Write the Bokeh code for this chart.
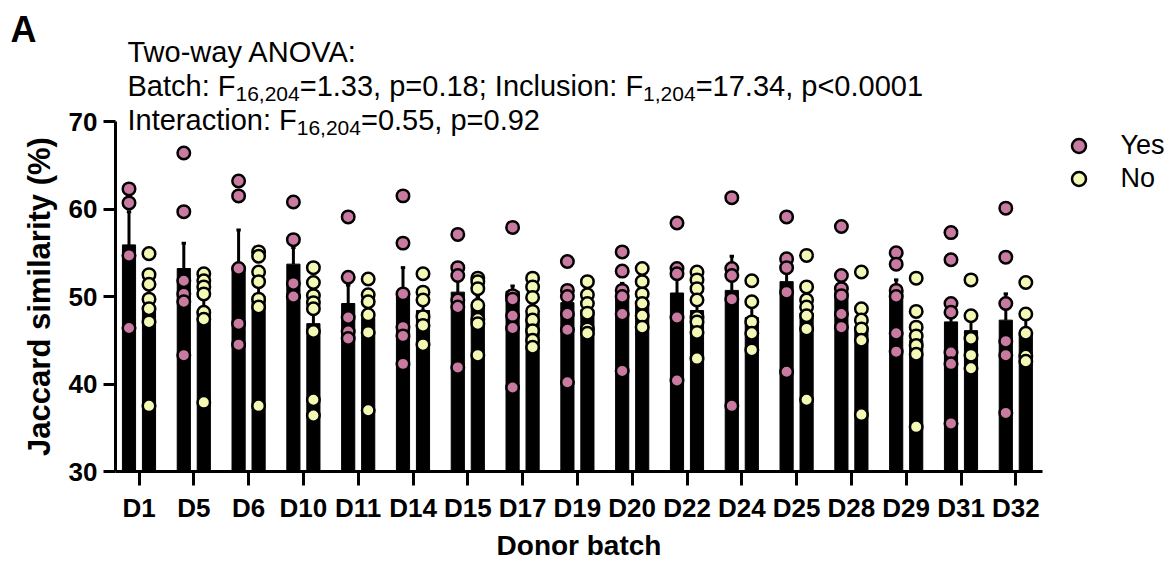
import numpy as np
from bokeh.plotting import figure
from bokeh.models import (Range1d, FixedTicker, Label, Legend, LegendItem,
                          ColumnDataSource)
from bokeh.embed import file_html
from bokeh.resources import INLINE

# ---------------- data ----------------
batches = ["D1", "D5", "D6", "D10", "D11", "D14", "D15", "D17", "D19",
           "D20", "D22", "D24", "D25", "D28", "D29", "D31", "D32"]

yes_points = [
    [62.3, 60.7, 54.7, 46.4],
    [66.4, 59.7, 51.8, 50.3, 49.4, 43.3],
    [63.2, 61.5, 53.2, 46.9, 44.5],
    [60.8, 56.5, 51.5, 50.0, 50.0],
    [59.1, 52.2, 47.6, 46.0, 45.2],
    [61.5, 56.1, 50.3, 46.5, 45.5, 42.3],
    [57.1, 53.3, 52.4, 49.6, 48.8, 41.9],
    [57.9, 50.1, 49.7, 47.8, 46.4, 39.6],
    [54.0, 50.7, 50.0, 48.0, 46.2, 40.2],
    [55.1, 52.9, 50.7, 50.0, 48.0, 41.5],
    [58.4, 53.2, 52.6, 47.6, 40.4],
    [61.3, 53.2, 52.4, 49.7, 37.5],
    [59.1, 54.3, 53.3, 50.5, 41.4],
    [58.0, 52.4, 50.9, 50.1, 48.0, 46.5],
    [55.0, 53.7, 50.7, 50.0, 45.8, 43.7],
    [57.3, 54.2, 49.2, 48.2, 43.6, 42.3, 35.5],
    [60.1, 54.5, 49.2, 44.9, 43.3, 36.7],
]
no_points = [
    [54.9, 52.5, 51.4, 49.7, 48.6, 47.1, 37.5],
    [52.6, 51.8, 51.1, 50.3, 48.2, 47.4, 37.9],
    [55.1, 54.6, 52.8, 51.7, 49.7, 48.8, 37.5],
    [53.3, 51.6, 50.1, 49.3, 48.6, 46.0, 38.2, 36.4],
    [52.0, 50.2, 49.4, 47.9, 45.9, 37.0],
    [52.6, 50.5, 49.6, 47.7, 46.7, 44.5],
    [52.1, 51.7, 50.9, 49.0, 47.4, 46.9, 43.3],
    [52.1, 51.1, 49.9, 48.3, 47.3, 46.1, 45.0, 44.2],
    [51.7, 50.2, 49.2, 48.1, 46.3, 45.8],
    [53.2, 51.7, 50.3, 49.2, 47.8, 46.5],
    [52.8, 51.9, 50.9, 49.6, 47.6, 47.1, 45.9, 42.9],
    [51.8, 49.4, 47.1, 45.8, 43.9],
    [54.7, 51.1, 49.6, 48.8, 47.8, 46.3, 38.2],
    [52.8, 48.6, 47.3, 46.3, 45.0, 36.5],
    [52.1, 48.3, 46.5, 45.5, 44.4, 43.4, 35.1],
    [51.9, 47.8, 45.2, 43.3, 41.8],
    [51.6, 48.0, 45.8, 43.2, 42.6],
]

yes_mean = [55.9, 53.2, 53.3, 53.7, 49.2, 50.4, 50.5, 50.6, 49.3, 49.9,
            50.4, 50.7, 51.7, 50.5, 50.6, 47.1, 47.3]
yes_sem = [3.8, 2.9, 4.3, 1.9, 2.1, 2.9, 2.0, 0.6, 1.5, 1.6,
           1.6, 3.9, 2.2, 1.8, 1.3, 2.5, 3.0]
no_mean = [48.8, 48.5, 50.0, 46.9, 47.5, 48.4, 48.8, 48.0, 48.5, 49.2,
           48.4, 47.6, 48.1, 46.5, 45.0, 46.1, 45.8]
no_sem = [2.1, 1.9, 2.3, 2.3, 2.2, 1.2, 1.2, 1.0, 0.9, 1.0,
          1.1, 1.4, 1.9, 2.2, 2.1, 1.7, 1.7]

y_ticks = [30, 40, 50, 60, 70]
y_min, y_max = 30, 70

# ---------------- layout constants (pixels) ----------------
W, H = 1172, 563
AX_L, AX_R, AX_T, AX_B = 115, 1042, 121, 471      # axis box on the canvas
X0_PX, DX_PX = 138.5, 54.8                        # first category / spacing
PY = (AX_B - AX_T) / (y_max - y_min)              # px per y unit

YES_C = "#C87AA0"
NO_C = "#F3F8B4"
FONT = "Liberation Sans"
OFF = 0.1825
BW = 0.24

x_lo = (AX_L - X0_PX) / DX_PX
x_hi = (AX_R - X0_PX) / DX_PX
p = figure(width=W, height=H, output_backend="svg", toolbar_location=None,
           x_range=Range1d((0 - X0_PX) / DX_PX, (W - X0_PX) / DX_PX),
           y_range=Range1d(y_min - (H - AX_B) / PY, y_min + AX_B / PY),
           min_border=0)
p.outline_line_color = None
p.grid.visible = False

xa, ya = p.xaxis[0], p.yaxis[0]
xa.fixed_location = y_min
xa.bounds = (x_lo, x_hi)
ya.fixed_location = x_lo
ya.bounds = (y_min, y_max)
for ax in (xa, ya):
    ax.axis_line_width = 3
    ax.axis_line_color = "black"
    ax.major_tick_line_width = 3
    ax.major_tick_line_color = "black"
    ax.major_tick_in = 0
    ax.minor_tick_line_color = None
    ax.major_label_text_font = FONT
    ax.major_label_text_font_style = "bold"
    ax.major_label_text_font_size = "26px"
    ax.major_label_text_color = "black"

ya.ticker = FixedTicker(ticks=y_ticks)
ya.major_tick_out = 12
ya.major_label_standoff = 6

n = len(batches)
xs = np.arange(n)
xa.ticker = FixedTicker(ticks=list(range(n)))
xa.major_label_overrides = {i: b for i, b in enumerate(batches)}
xa.major_tick_out = 14
xa.major_label_standoff = 7

ym = np.array(yes_mean)
nm = np.array(no_mean)
src = ColumnDataSource(dict(
    xy=xs - OFF, xn=xs + OFF, ym=ym, nm=nm,
    yt=ym + np.array(yes_sem), nt=nm + np.array(no_sem),
    xyl=xs - OFF - 0.04, xyr=xs - OFF + 0.04,
    xnl=xs + OFF - 0.04, xnr=xs + OFF + 0.04,
))

p.vbar(x="xy", top="ym", bottom=y_min, width=BW, source=src,
       fill_color="black", line_color="black", line_width=1)
p.vbar(x="xn", top="nm", bottom=y_min, width=BW, source=src,
       fill_color="black", line_color="black", line_width=1)
for xk, b, t, l, r in (("xy", "ym", "yt", "xyl", "xyr"),
                       ("xn", "nm", "nt", "xnl", "xnr")):
    p.segment(x0=xk, y0=b, x1=xk, y1=t, source=src, line_color="black", line_width=3)
    p.segment(x0=l, y0=t, x1=r, y1=t, source=src, line_color="black", line_width=3)

yx = [i - OFF for i, pts in enumerate(yes_points) for _ in pts]
yy = [v for pts in yes_points for v in pts]
nx = [i + OFF for i, pts in enumerate(no_points) for _ in pts]
ny = [v for pts in no_points for v in pts]
r_yes = p.scatter(yx, yy, size=12.5, fill_color=YES_C, line_color="black", line_width=2.5)
r_no = p.scatter(nx, ny, size=12.5, fill_color=NO_C, line_color="black", line_width=2.5)

# ---------------- legend ----------------
GW = 35
for lab, rend, cy in (("Yes", r_yes, 145), ("No", r_no, 178)):
    leg = Legend(items=[LegendItem(label=lab, renderers=[rend])],
                 location=(1078 - GW / 2, H - (cy + GW / 2)),
                 glyph_width=GW, glyph_height=GW, label_standoff=25,
                 padding=0, margin=0, spacing=0,
                 border_line_color=None, background_fill_alpha=0,
                 label_text_font=FONT, label_text_font_size="27px",
                 label_text_color="black")
    p.add_layout(leg, "center")

# ---------------- texts ----------------
AW = {' ': 278, 'T': 611, 'w': 722, 'o': 556, '-': 333, 'a': 556, 'y': 500,
      'A': 667, 'N': 722, 'O': 778, 'V': 667, ':': 278, 'B': 667, 't': 278,
      'c': 500, 'h': 556, 'F': 611, ',': 278, '=': 584, '.': 278, 'p': 556,
      ';': 278, 'I': 278, 'n': 556, 'l': 222, 'u': 556, 's': 500, 'i': 222,
      '<': 584, 'e': 556, 'r': 333}
for d in "0123456789":
    AW[d] = 556


def tw(s, size):
    return sum(AW.get(c, 556) for c in s) * size / 1000.0


def label(x, base, text, size, bold=False, **kw):
    # base: wanted baseline on the canvas (px from top)
    y = base - 0.31 * size if kw.get("text_baseline") == "alphabetic" else base
    p.add_layout(Label(x=x, y=H - y, x_units="screen", y_units="screen",
                       text=text, text_font=FONT, text_font_size=f"{size}px",
                       text_font_style="bold" if bold else "normal",
                       text_color="black", **kw))


MAIN, SUB = 29, 21
lines = [
    (60, [("Two-way ANOVA:", False)]),
    (94, [("Batch: F", False), ("16,204", True),
          ("=1.33, p=0.18; Inclusion: F", False), ("1,204", True),
          ("=17.34, p<0.0001", False)]),
    (128, [("Interaction: F", False), ("16,204", True), ("=0.55, p=0.92", False)]),
]
for base, segs in lines:
    cx = 127
    for s, sub in segs:
        size = SUB if sub else MAIN
        label(cx, base + (6 if sub else 0), s, size,
              text_baseline="alphabetic", text_align="left")
        cx += tw(s, size)

label(10, 40, "A", 36, bold=True, text_baseline="alphabetic", text_align="left")
label((AX_L + AX_R) / 2, 554, "Donor batch", 28, bold=True,
      text_baseline="alphabetic", text_align="center")
label(39, (AX_T + AX_B) / 2, "Jaccard similarity (%)", 31, bold=True,
      text_baseline="middle", text_align="center", angle=np.pi / 2)

open("out.html", "w").write(file_html(p, INLINE))
